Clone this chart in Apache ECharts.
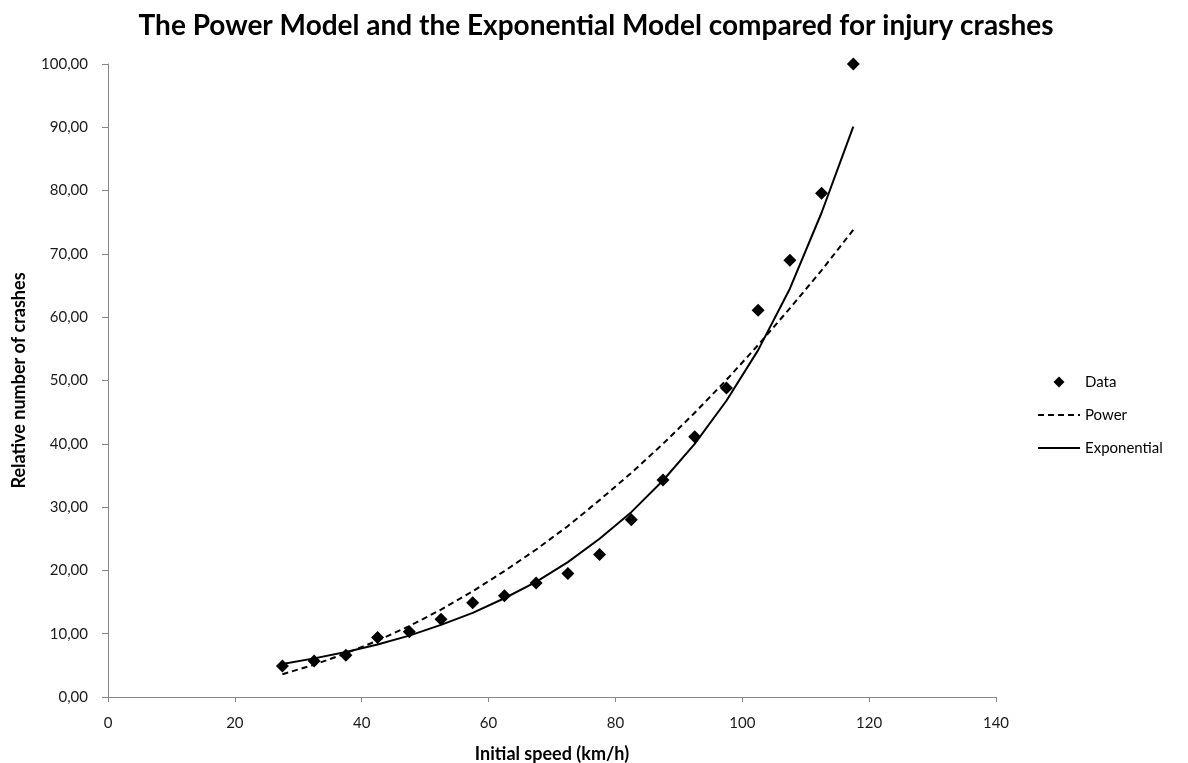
<!DOCTYPE html>
<html><head><meta charset="utf-8">
<script src="https://cdn.jsdelivr.net/npm/echarts@6/dist/echarts.min.js"></script>
<style>html,body{margin:0;padding:0;background:#fff}#c{width:1188px;height:763px}</style>
</head><body><div id="c"></div>
<script>
const speeds = [27.5,32.5,37.5,42.5,47.5,52.5,57.5,62.5,67.5,72.5,77.5,82.5,87.5,92.5,97.5,102.5,107.5,112.5,117.5];
const dataValues = [4.9,5.7,6.6,9.4,10.3,12.3,14.9,16.0,18.0,19.5,22.5,28.0,34.3,41.1,48.8,61.1,69.0,79.6,100.0];
const powerValues = [3.6,5.1,6.9,8.9,11.2,13.8,16.7,19.9,23.3,27.0,31.1,35.4,40.0,44.9,50.1,55.6,61.4,67.4,73.8];
const expValues = [5.2,6.1,7.1,8.3,9.7,11.4,13.3,15.6,18.2,21.3,25.0,29.2,34.2,40.0,46.8,54.8,64.5,76.5,90.1];
const xTicks = {min:0, max:140, interval:20};
const yTicks = {min:0, max:100, interval:10};

const pair = (vals) => speeds.map((x,i)=>[x, vals[i]]);
const F = "Lato, 'Open Sans', sans-serif";
const chart = echarts.init(document.getElementById('c'));
chart.setOption({
  animation:false,
  title:{text:'The Power Model and the Exponential Model compared for injury crashes', left:591, top:7, textAlign:'center',
    textStyle:{fontFamily:F, fontWeight:'bold', fontSize:28, color:'#000'}},
  grid:{left:108, right:192, top:64, bottom:66, outerBoundsMode:'none', containLabel:false},
  legend:{orient:'vertical', left:1032, top:368, itemGap:15, itemWidth:42, itemHeight:11,
    textStyle:{fontFamily:F, fontSize:15, color:'#000', lineHeight:18},
    data:[
      {name:'Data', icon:'path://M5,0L10,5L5,10L0,5Z'},
      {name:'Power', itemStyle:{opacity:0}},
      {name:'Exponential', itemStyle:{opacity:0}}
    ]},
  xAxis:{type:'value', min:xTicks.min, max:xTicks.max, interval:xTicks.interval,
    name:'Initial speed (km/h)', nameLocation:'middle', nameGap:48,
    nameTextStyle:{fontFamily:F, fontWeight:'bold', fontSize:18, color:'#000'},
    axisLine:{lineStyle:{color:'#868686', width:1}}, axisTick:{show:true, length:5, lineStyle:{color:'#868686'}},
    splitLine:{show:false},
    axisLabel:{fontFamily:F, fontSize:15, color:'#1a1a1a', margin:19}},
  yAxis:{type:'value', min:yTicks.min, max:yTicks.max, interval:yTicks.interval,
    name:'Relative number of crashes', nameLocation:'middle', nameGap:80, nameRotate:90,
    nameTextStyle:{fontFamily:F, fontWeight:'bold', fontSize:18, color:'#000'},
    axisLine:{show:true, lineStyle:{color:'#868686', width:1}}, axisTick:{show:true, length:6, lineStyle:{color:'#868686'}},
    splitLine:{show:false},
    axisLabel:{fontFamily:F, fontSize:15, color:'#1a1a1a', margin:20,
      formatter:v=>v.toFixed(2).replace('.',',')}},
  series:[
    {name:'Data', type:'scatter', symbol:'diamond', symbolSize:13, itemStyle:{color:'#000', opacity:1}, data:pair(dataValues), z:5},
    {name:'Power', type:'line', symbol:'none', data:pair(powerValues), lineStyle:{color:'#000', width:2, type:[6,4]}, itemStyle:{color:'#000'}},
    {name:'Exponential', type:'line', symbol:'none', data:pair(expValues), lineStyle:{color:'#000', width:2}, itemStyle:{color:'#000'}}
  ]
});
</script></body></html>
